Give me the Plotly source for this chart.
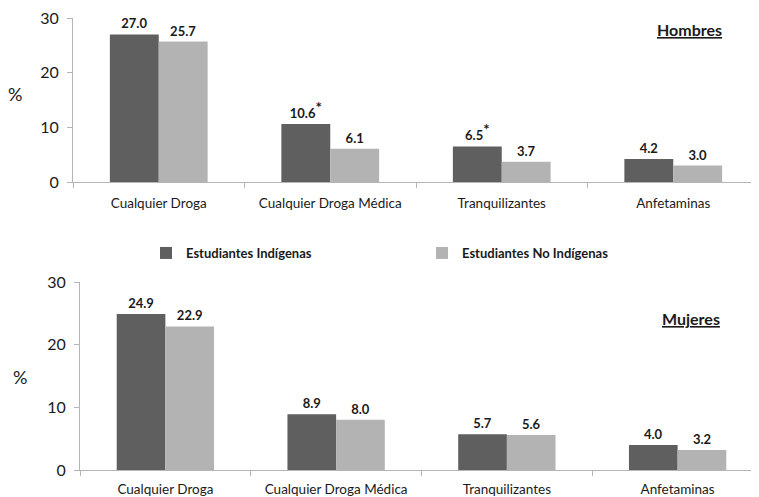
import plotly.graph_objects as go

categories = ["Cualquier Droga", "Cualquier Droga Médica", "Tranquilizantes", "Anfetaminas"]
series_names = ["Estudiantes Indígenas", "Estudiantes No Indígenas"]
hombres_ind = [27.0, 10.6, 6.5, 4.2]
hombres_noind = [25.7, 6.1, 3.7, 3.0]
mujeres_ind = [24.9, 8.9, 5.7, 4.0]
mujeres_noind = [22.9, 8.0, 5.6, 3.2]
STAR = "<sup><span style='font-size:15px'>*</span></sup>"
hombres_ind_labels = ["27.0", "10.6" + STAR, "6.5" + STAR, "4.2"]
hombres_noind_labels = ["25.7", "6.1", "3.7", "3.0"]
mujeres_ind_labels = ["24.9", "8.9", "5.7", "4.0"]
mujeres_noind_labels = ["22.9", "8.0", "5.6", "3.2"]
y_ticks = [0, 10, 20, 30]

DARK = "#5f5f5f"
LIGHT = "#b3b3b3"
FONT = "Lato"
W, H = 759, 497
OFF = 8  # page body margin

fig = go.Figure()

def add_bar(x, y, labels, color, name, xa, ya, show):
    fig.add_trace(go.Bar(
        x=x, y=y, text=labels, textposition="outside", cliponaxis=False,
        textfont=dict(family=FONT, size=13, color="#1a1a1a", weight="bold"),
        marker=dict(color=color, line=dict(width=0)),
        name=name, xaxis=xa, yaxis=ya, showlegend=show, legendgroup=name,
    ))

add_bar(categories, hombres_ind, hombres_ind_labels, DARK, series_names[0], "x", "y", True)
add_bar(categories, hombres_noind, hombres_noind_labels, LIGHT, series_names[1], "x", "y", True)
add_bar(categories, mujeres_ind, mujeres_ind_labels, DARK, series_names[0], "x2", "y2", False)
add_bar(categories, mujeres_noind, mujeres_noind_labels, LIGHT, series_names[1], "x2", "y2", False)

def py(px):
    return (H - (px - OFF)) / H

def px_(x):
    return (x - OFF) / W

axis_common = dict(showgrid=False, zeroline=False, showline=True, linecolor="#b5b5b5",
                   linewidth=1, ticks="outside", tickcolor="#b5b5b5", ticklen=5,
                   automargin=False, ticklabeloverflow="allow",
                   tickfont=dict(family=FONT, size=13.5, color="#1a1a1a"))
yaxis_common = dict(showgrid=False, zeroline=False, showline=True, linecolor="#b5b5b5",
                    linewidth=1, ticks="outside", tickcolor="#b5b5b5", ticklen=5,
                    tickvals=y_ticks, range=[0, 30], automargin=False,
                    ticklabeloverflow="allow", ticklabelstandoff=5,
                    tickfont=dict(family=FONT, size=16, color="#1a1a1a"))

fig.update_layout(
    width=W, height=H, margin=dict(l=0, r=0, t=0, b=0, pad=0, autoexpand=False),
    paper_bgcolor="white", plot_bgcolor="white",
    barmode="group", bargap=0.43, bargroupgap=0,
    font=dict(family=FONT, color="#1a1a1a"),
    xaxis=dict(domain=[px_(73), px_(759)], anchor="y", tickson="boundaries",
               ticklabelstandoff=9, **axis_common),
    yaxis=dict(domain=[py(182), py(18)], anchor="x", **yaxis_common),
    xaxis2=dict(domain=[px_(80), px_(763)], anchor="y2", tickson="boundaries",
                ticklabelstandoff=7, **axis_common),
    yaxis2=dict(domain=[py(470), py(282)], anchor="x2", **yaxis_common),
    legend=dict(orientation="h", x=px_(146), y=py(253), xanchor="left", yanchor="middle",
                entrywidth=231, entrywidthmode="pixels", itemwidth=30,
                font=dict(family=FONT, size=13, color="#1a1a1a", weight="bold"),
                traceorder="normal", bgcolor="rgba(0,0,0,0)"),
    annotations=[
        dict(text="<b><u>Hombres</u></b>", x=px_(689), y=py(30), xref="paper", yref="paper",
             xanchor="center", yanchor="middle",
             showarrow=False, font=dict(family=FONT, size=16, color="#1a1a1a")),
        dict(text="<b><u>Mujeres</u></b>", x=px_(691), y=py(318), xref="paper", yref="paper",
             xanchor="center", yanchor="middle",
             showarrow=False, font=dict(family=FONT, size=16, color="#1a1a1a")),
        dict(text="%", x=px_(15), y=py(94), xref="paper", yref="paper",
             xanchor="center", yanchor="middle",
             showarrow=False, font=dict(family=FONT, size=18, color="#1a1a1a")),
        dict(text="%", x=px_(20), y=py(377), xref="paper", yref="paper",
             xanchor="center", yanchor="middle",
             showarrow=False, font=dict(family=FONT, size=18, color="#1a1a1a")),
    ],
)

fig.write_html("out.html")
